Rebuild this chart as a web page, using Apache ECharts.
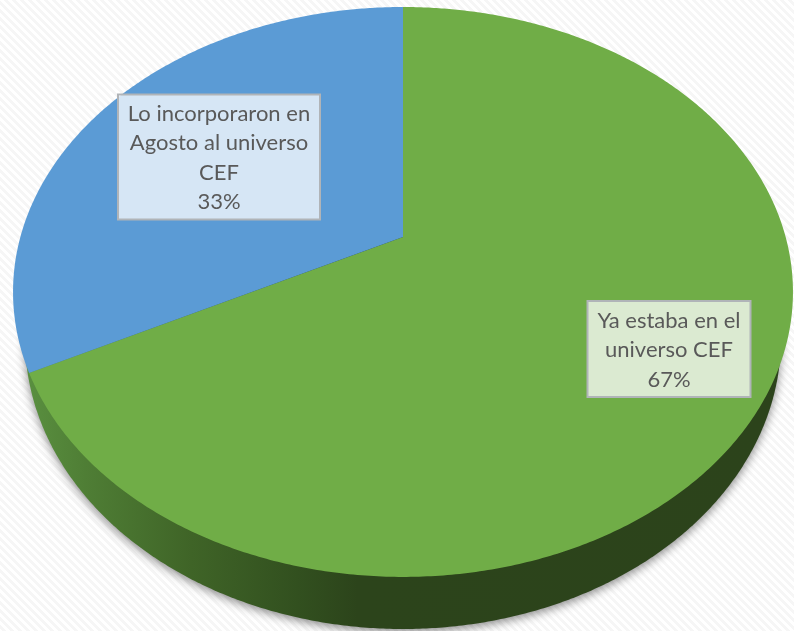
<!DOCTYPE html>
<html>
<head>
<meta charset="utf-8">
<style>html,body{margin:0;padding:0;background:#fff}#c{width:794px;height:631px}</style>
<script src="https://cdn.jsdelivr.net/npm/echarts@6/dist/echarts.min.js"></script>
</head>
<body>
<div id="c"></div>
<script>
var categories = ['Ya estaba en el\nuniverso CEF', 'Lo incorporaron en\nAgosto al universo\nCEF'];
var values = [67, 33];
var colors = ['#70AD47', '#5B9BD5'];

// Background: fine diagonal stripes
var tile = document.createElement('canvas');
tile.width = tile.height = 8;
var tc = tile.getContext('2d');
for (var ty = 0; ty < 8; ty++) for (var tx = 0; tx < 8; tx++) {
  tc.fillStyle = (((tx - ty) % 8 + 8) % 8) < 4 ? '#ffffff' : '#f6f6f6';
  tc.fillRect(tx, ty, 1, 1);
}

// Tilted-disc projection: unit circle -> ellipse on screen
var cx = 403, apexY = 237, c = 0.229, a = -218.1, b = 226.7, d = 379.6;
function rim(theta) {
  var x = Math.sin(theta), y = Math.cos(theta), w = 1 + c * y;
  return [cx + d * x / w, (a * y + b) / w];
}
var total = values.reduce(function (s, v) { return s + v; }, 0);
var boxes = [
  { x: 587.5, y: 301, w: 163, h: 96 },
  { x: 118, y: 94.5, w: 202, h: 125 }
];

function renderItem(params, api) {
  var i = params.dataIndex, before = 0;
  for (var k = 0; k < i; k++) before += values[k];
  var t0 = before / total * 2 * Math.PI;
  var t1 = (before + api.value(0)) / total * 2 * Math.PI;
  var n = Math.max(2, Math.round((t1 - t0) * 120));
  var pts = [[cx, apexY]];
  for (var j = 0; j <= n; j++) pts.push(rim(t0 + (t1 - t0) * j / n));

  var children = [];
  if (i === 0) {
    var low = [];
    for (var m = 0; m < 720; m++) {
      var u = m / 720 * 2 * Math.PI;
      low.push([cx + 378 * Math.cos(u), 339 + 290 * Math.sin(u)]);
    }
    children.push({
      type: 'polygon', z2: 1, shape: { points: low },
      style: {
        fill: new echarts.graphic.LinearGradient(0, 0, 1, 0, [
          { offset: 0, color: '#5a9040' },
          { offset: 0.08, color: '#4f7e35' },
          { offset: 0.22, color: '#3f6427' },
          { offset: 0.36, color: '#32501f' },
          { offset: 0.44, color: '#2c441b' },
          { offset: 1, color: '#2c431b' }
        ]),
        shadowBlur: 10, shadowColor: 'rgba(0,0,0,0.45)', shadowOffsetY: 3
      }
    });
  }
  children.push({
    type: 'polygon', z2: 2, shape: { points: pts },
    style: { fill: colors[i] }
  });
  var bx = boxes[i];
  children.push({
    type: 'rect', z2: 3, shape: { x: bx.x, y: bx.y, width: bx.w, height: bx.h },
    style: { fill: 'rgba(255,255,255,0.75)', stroke: '#b0b4b8', lineWidth: 2 }
  });
  children.push({
    type: 'text', z2: 4,
    style: {
      text: categories[i] + '\n' + api.value(0) + '%',
      x: bx.x + bx.w / 2, y: bx.y + bx.h / 2 + 1,
      align: 'center', verticalAlign: 'middle',
      font: '22px Lato', lineHeight: 29.5, fill: '#595959'
    }
  });
  return { type: 'group', children: children };
}

var chart = echarts.init(document.getElementById('c'), null, { renderer: 'canvas' });
chart.setOption({
  animation: false,
  backgroundColor: { image: tile, repeat: 'repeat' },
  series: [{
    type: 'custom',
    coordinateSystem: 'none',
    renderItem: renderItem,
    data: categories.map(function (name, i) { return { name: name, value: [values[i]] }; })
  }]
});
</script>
</body>
</html>
